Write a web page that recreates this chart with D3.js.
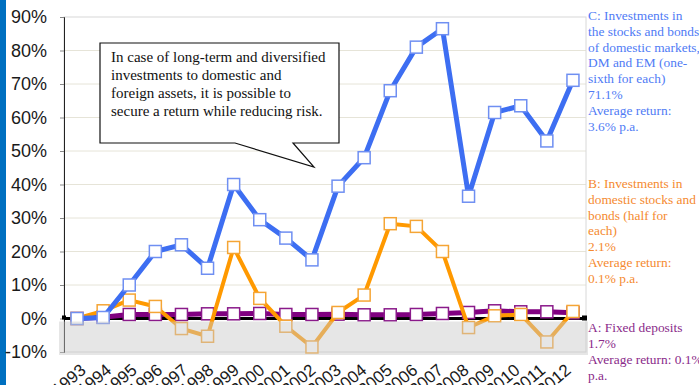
<!DOCTYPE html>
<html>
<head>
<meta charset="utf-8">
<script src="https://cdn.jsdelivr.net/npm/d3@7"></script>
<style>
  body { margin: 0; background: #fff; }
  svg { display: block; }
</style>
</head>
<body>
<div id="chart"></div>
<script>
/* data */
var years = ['1993','1994','1995','1996','1997','1998','1999','2000','2001','2002',
             '2003','2004','2005','2006','2007','2008','2009','2010','2011','2012'];
var seriesC = [0, 0.3, 10, 20, 22, 15, 40, 29.5, 24, 17.5, 39.5, 48, 68, 81, 86.5, 36.5, 61.5, 63.5, 53, 71.1];
var seriesB = [0, 2.3, 5.5, 3.6, -3, -5.3, 21.2, 6, -2.3, -8.5, 1.8, 7, 28.3, 27.5, 20, -2.7, 0.8, 1.2, -7, 2.1];
var seriesA = [0, 0.4, 1.2, 1.2, 1.2, 1.4, 1.4, 1.5, 1.2, 1.2, 1.3, 1.1, 1.1, 1.2, 1.5, 1.8, 2.3, 2.0, 2.0, 1.7];
var yTicks = [-10, 0, 10, 20, 30, 40, 50, 60, 70, 80, 90];

var noteLines = ['In case of long-term and diversified',
                 'investments to domestic and',
                 'foreign assets, it is possible to',
                 'secure a return while reducing risk.'];
var labelC = ['C:  Investments in', 'the stocks and bonds', 'of domestic markets,',
              'DM and EM (one-', 'sixth for each)', '71.1%', 'Average return:', '3.6% p.a.'];
var labelB = ['B: Investments in', 'domestic stocks and', 'bonds (half for', 'each)',
              '2.1%', 'Average return:', '0.1% p.a.'];
var labelA = ['A: Fixed deposits', '1.7%', 'Average return: 0.1%', 'p.a.'];

/* setup */
var W = 699, H = 385;
var svg = d3.select('#chart').append('svg')
    .attr('width', W)
    .attr('height', H);

var x = d3.scalePoint().domain(years).range([64, 586]).padding(0.5);
var xLabel = d3.scalePoint().domain(years).range([87, 572]);   // label ends, slightly tighter than the points
var y = d3.scaleLinear().domain([-10, 90]).range([352, 17]);

// blue bar at far left
svg.append('rect').attr('x', 0).attr('y', 0).attr('width', 6).attr('height', H).attr('fill', '#0070c0');

// gridlines
svg.append('g').selectAll('line')
    .data(yTicks.filter(function (d) { return d > -10 && d < 90; }))
  .enter().append('line')
    .attr('x1', 64).attr('x2', 586)
    .attr('y1', function (d) { return y(d); })
    .attr('y2', function (d) { return y(d); })
    .attr('stroke', '#e6e4d8')
    .attr('stroke-width', 1);

// plot border
svg.append('rect')
    .attr('x', 64).attr('y', y(90))
    .attr('width', 522).attr('height', y(-10) - y(90))
    .attr('fill', 'none').attr('stroke', '#d8d8d8');

// y axis
var yAxis = d3.axisLeft(y).tickValues(yTicks).tickSize(4).tickFormat(function (d) { return d + '%'; });
var gy = svg.append('g').attr('transform', 'translate(64,0)').call(yAxis);
gy.select('.domain').attr('stroke', '#222');
gy.selectAll('.tick line').attr('stroke', '#888');
gy.selectAll('.tick text')
    .attr('x', -17)
    .style('font-family', 'Arial, "Liberation Sans", sans-serif')
    .style('font-size', '18px')
    .attr('fill', '#1a1a1a');

// x labels (bottom is cropped, as in the original)
svg.append('g').selectAll('text')
    .data(years)
  .enter().append('text')
    .attr('transform', function (d) { return 'translate(' + xLabel(d) + ',372) rotate(-40)'; })
    .attr('text-anchor', 'end')
    .style('font-family', 'Arial, "Liberation Sans", sans-serif')
    .style('font-size', '17px')
    .attr('fill', '#1a1a1a')
    .text(function (d) { return d; });

// zero line
svg.append('line')
    .attr('x1', 64).attr('x2', 586)
    .attr('y1', y(0)).attr('y2', y(0))
    .attr('stroke', '#000').attr('stroke-width', 3);
svg.append('rect').attr('x', 62).attr('y', y(0) - 3).attr('width', 4).attr('height', 4).attr('fill', '#000');
svg.append('rect').attr('x', 582).attr('y', y(0) - 3).attr('width', 5).attr('height', 5).attr('fill', '#000');

function drawSeries(values, lineColor, markColor, lw) {
    var pts = values.map(function (v, i) { return { year: years[i], v: v }; });
    var line = d3.line()
        .x(function (d) { return x(d.year); })
        .y(function (d) { return y(d.v); });
    svg.append('path')
        .datum(pts)
        .attr('d', line)
        .attr('fill', 'none')
        .attr('stroke', lineColor)
        .attr('stroke-width', lw)
        .attr('stroke-linejoin', 'round');
    svg.append('g').selectAll('rect')
        .data(pts)
      .enter().append('rect')
        .attr('x', function (d) { return x(d.year) - 6; })
        .attr('y', function (d) { return y(d.v) - 6; })
        .attr('width', 12).attr('height', 12)
        .attr('fill', '#fff')
        .attr('stroke', markColor)
        .attr('stroke-width', 1.5);
}

drawSeries(seriesA, '#800080', '#8a1a8a', 5);
drawSeries(seriesB, '#ff9900', '#f5a535', 4);
drawSeries(seriesC, '#3d6ef2', '#6f8ff2', 5);

// gray translucent band below zero
svg.append('rect')
    .attr('x', 59).attr('y', y(0) + 3)
    .attr('width', 529).attr('height', y(-10) - y(0))
    .attr('fill', '#c8c8c8').attr('fill-opacity', 0.45);

// callout
var callout = svg.append('g');
callout.append('path')
    .attr('d', 'M100,43 H339 V143 H293 L314,167 L235,143 H100 Z')
    .attr('fill', '#fff')
    .attr('stroke', '#111')
    .attr('stroke-width', 1.2);
callout.selectAll('text')
    .data(noteLines)
  .enter().append('text')
    .attr('x', 111)
    .attr('y', function (d, i) { return 62 + i * 18; })
    .style('font-family', '"Liberation Serif", "Times New Roman", serif')
    .style('font-size', '15px')
    .attr('fill', '#111')
    .text(function (d) { return d; });

// side labels
function sideLabel(lines, top, color, step) {
    svg.append('g').selectAll('text')
        .data(lines)
      .enter().append('text')
        .attr('x', 588)
        .attr('y', function (d, i) { return top + i * step; })
        .style('font-family', '"Liberation Serif", "Times New Roman", serif')
        .style('font-size', '13.4px')
        .attr('fill', color)
        .text(function (d) { return d; });
}
sideLabel(labelC, 20, '#4f7bf5', 15.8);
sideLabel(labelB, 188, '#f58a30', 15.8);
sideLabel(labelA, 332, '#8a2a8a', 16);
</script>
</body>
</html>
